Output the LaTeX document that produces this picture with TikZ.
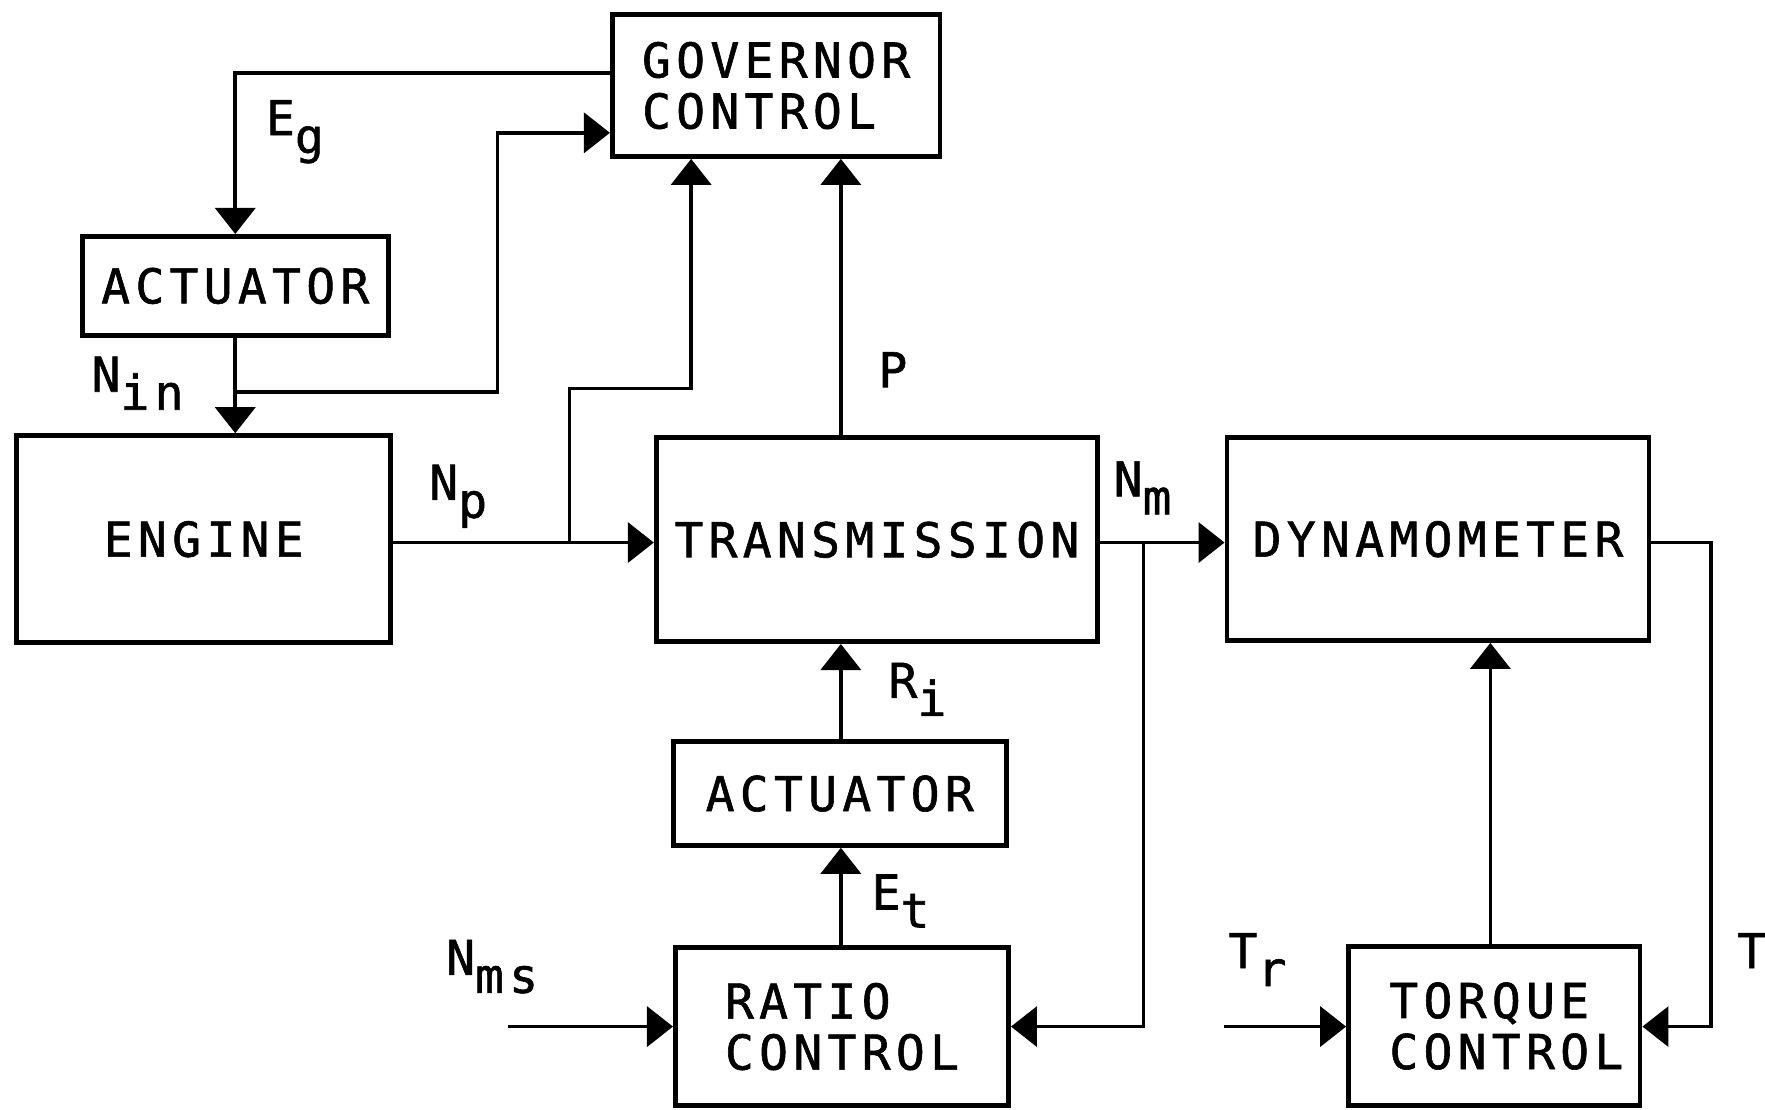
\documentclass[tikz,border=0pt]{standalone}
\usepackage{fontspec}
\newfontfamily\lett{DejaVu Sans Mono}[LetterSpace=11, FakeBold=1.2]
\usetikzlibrary{arrows.meta,calc}
\newcommand\boxfont{\lett\fontsize{24pt}{25.5pt}\selectfont}
\newcommand\sub[1]{\raisebox{-9pt}{#1}}
\begin{document}
\begin{tikzpicture}[x=0.5628pt,y=-0.5628pt,
  box/.style 2 args={draw, line width=2.4pt, inner sep=0pt, font=\boxfont, align=left,
     minimum width=#1*0.5628pt, minimum height=#2*0.5628pt},
  conn/.style={line width=1.8pt, line join=miter},
  arr/.style={conn, -{Triangle[length=13pt,width=20pt]}},
  lbl/.style={inner sep=0pt, font=\boxfont, anchor=base west}]
\useasboundingbox (0,0) rectangle (1568,986);
% boxes
\node[box={291}{126}] (gov) at (689.5,76) {GOVERNOR\\CONTROL};
\node[box={272}{88}] (act1) at (209,254) {ACTUATOR};
\node[box={332}{184}] (eng) at (181,479) {ENGINE};
\node[box={392}{181}] (trans) at (779,479.5) {TRANSMISSION};
\node[box={375}{180}] (dyn) at (1277.5,479) {DYNAMOMETER};
\node[box={296}{92}] (act2) at (746,705) {ACTUATOR};
\node[box={296}{140}] (ratio) at (748,912) {RATIO\\CONTROL};
\node[box={259}{141}] (torque) at (1327.5,911.5) {\hspace*{12pt}TORQUE\\\hspace*{12pt}CONTROL};
% helper coordinates
\coordinate (ey) at (0,65);
\coordinate (gin) at (442,118);
\coordinate (my) at (0,482);
\coordinate (npb) at (506,482);
\coordinate (npc) at (614,345);
\coordinate (px) at (747,0);
\coordinate (nmb) at (1016,482);
\coordinate (ny) at (0,912);
\coordinate (nms) at (451,912);
\coordinate (trs) at (1087,912);
\coordinate (tx) at (1324,0);
\coordinate (tc) at (1520,482);
\path (act1.south) ++(0,48) coordinate (nin);
% connectors
\draw[arr] (gov.west |- ey) -| (act1.north);
\draw[arr] (act1.south) -- (act1.south |- eng.north);
\draw[arr] (nin) -| (gin) -- (gov.west |- gin);
\draw[arr] (eng.east |- my) -- (trans.west |- my);
\draw[arr] (npb) |- (npc) -- (npc |- gov.south);
\draw[arr] (trans.north -| px) -- (gov.south -| px);
\draw[arr] (trans.east |- my) -- (dyn.west |- my);
\draw[arr] (nmb) |- (ratio.east |- ny);
\draw[arr] (act2.north -| px) -- (trans.south -| px);
\draw[arr] (ratio.north -| px) -- (act2.south -| px);
\draw[arr] (nms) -- (ratio.west |- nms);
\draw[arr] (trs) -- (torque.west |- trs);
\draw[arr] (torque.north -| tx) -- (dyn.south -| tx);
\draw[arr] (dyn.east |- tc) -- (tc) |- (torque.east |- ny);
% labels
\node[lbl] (leg) at (236,120) {E\sub{g}};
\node[lbl] (lnin) at (81,348) {N\sub{in}};
\node[lbl] (lnp) at (381,444) {N\sub{p}};
\node[lbl] (lp) at (780,344) {P};
\node[lbl] (lnm) at (989,441) {N\sub{m}};
\node[lbl] (lri) at (789,620) {R\sub{i}};
\node[lbl] (let) at (774,808) {E\sub{t}};
\node[lbl] (lnms) at (396,866) {N\sub{ms}};
\node[lbl] (ltr) at (1091,860) {T\sub{r}};
\node[lbl] (lt) at (1543,860) {T};
\end{tikzpicture}
\end{document}
